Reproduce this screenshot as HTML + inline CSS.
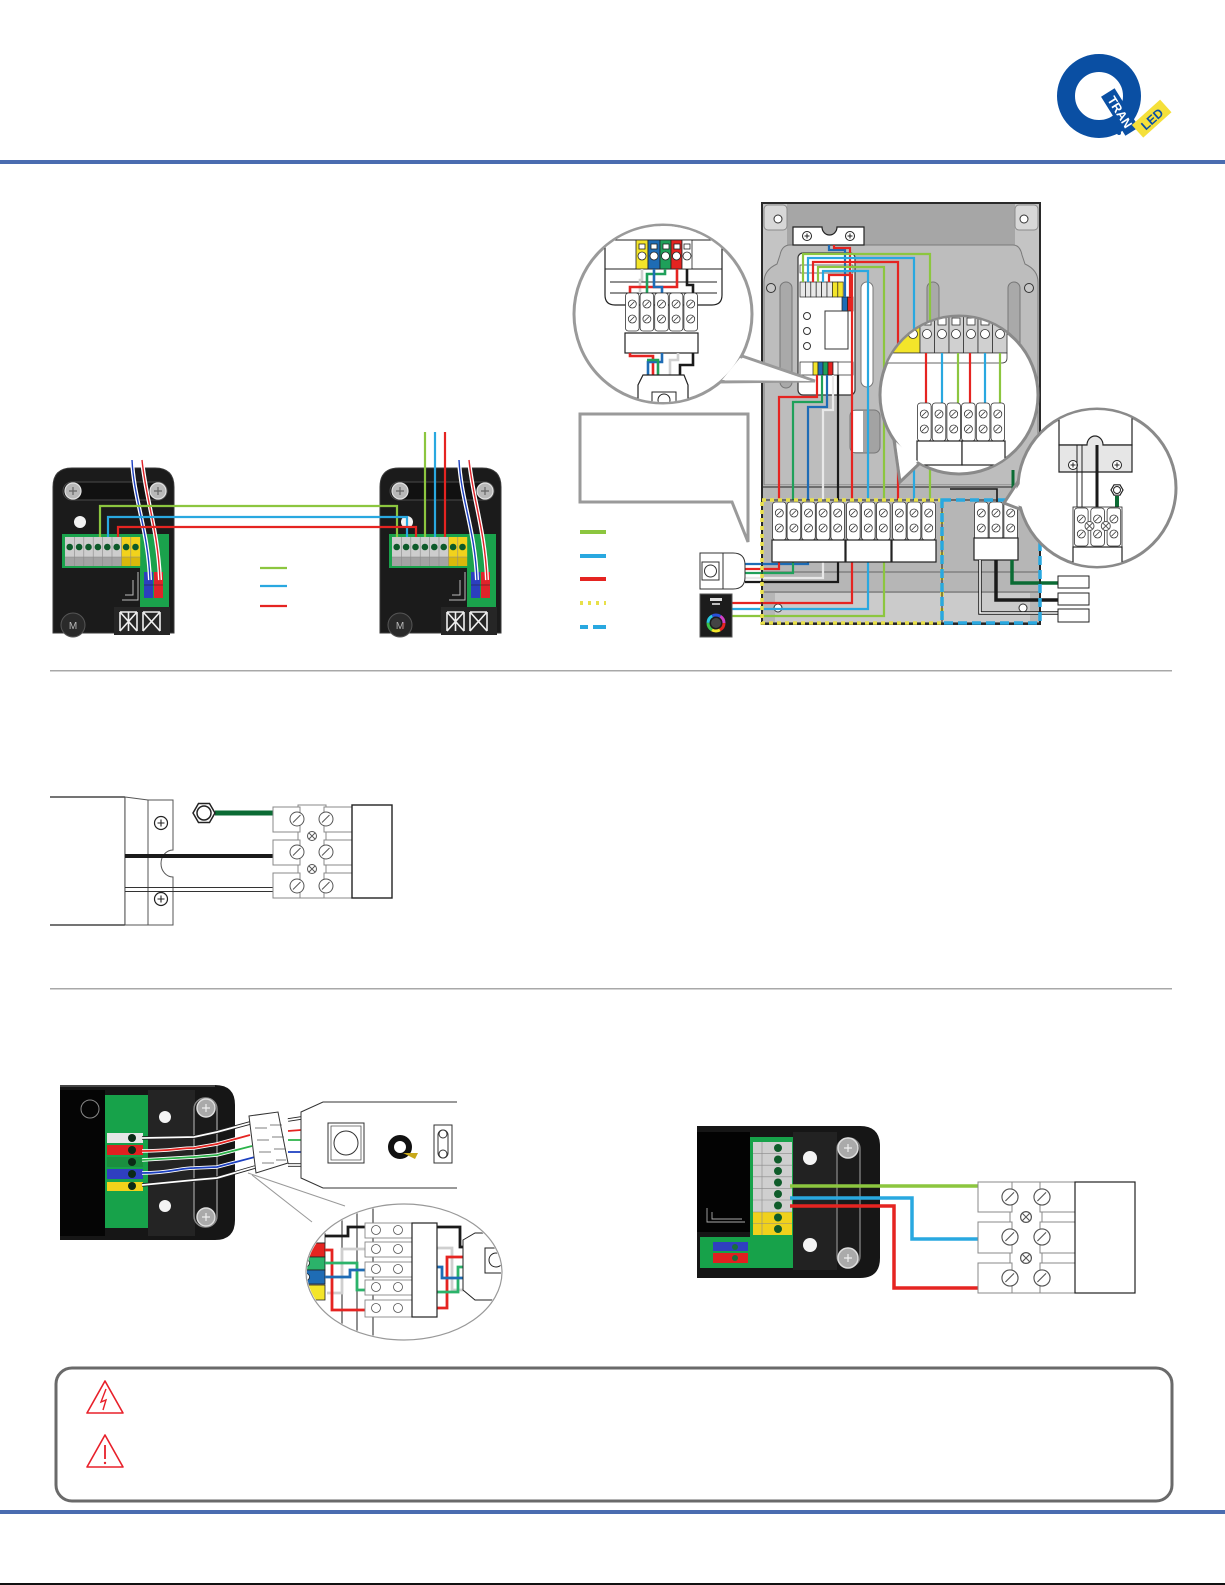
<!DOCTYPE html>
<html><head><meta charset="utf-8">
<style>
html,body{margin:0;padding:0;background:#fff;}
svg{display:block;}
</style></head><body>
<svg width="1225" height="1585" viewBox="0 0 1225 1585" xmlns="http://www.w3.org/2000/svg" xmlns:xlink="http://www.w3.org/1999/xlink" font-family="Liberation Sans, sans-serif">
<defs>
 <g id="sc"><circle r="4" fill="#fff" stroke="#333" stroke-width=".8"/><path d="M-2.4,2.1L2.1,-2.4" stroke="#333" stroke-width=".8"/></g>
 <g id="tc"><rect x=".5" y="0" width="13.6" height="38" rx="3" fill="#fff" stroke="#333" stroke-width=".8"/><use href="#sc" xlink:href="#sc" x="7.3" y="11"/><use href="#sc" xlink:href="#sc" x="7.3" y="26"/></g>
 <g id="bsc"><circle r="7" fill="#fff" stroke="#555" stroke-width="1"/><path d="M-4,3.5L3.5,-4" stroke="#555" stroke-width="1"/></g>
 <g id="xsc"><circle r="4.5" fill="#fff" stroke="#555" stroke-width="1"/><path d="M-3,-3L3,3M-3,3L3,-3" stroke="#555" stroke-width=".9"/></g>
 <g id="ps"><circle r="6.5" fill="#fff" stroke="#222" stroke-width="1.2"/><path d="M-3.5,0h7M0,-3.5v7" stroke="#222" stroke-width="1.1"/></g>
 <clipPath id="cL"><circle cx="663" cy="314" r="88"/></clipPath>
 <clipPath id="cM1"><circle cx="959" cy="395" r="78"/></clipPath>
 <clipPath id="cM2"><circle cx="1097" cy="488" r="78"/></clipPath>
 <clipPath id="cE"><ellipse cx="404" cy="1272" rx="97" ry="67"/></clipPath>

 <g id="ctl">
  <path d="M53,633 V487 Q53,468 72,468 H155 Q174,468 174,487 V633 Z" fill="#1b1b1b" stroke="#3a3a3a"/>
  <rect x="63" y="482" width="104" height="18" rx="9" fill="#111" stroke="#4a4a4a"/>
  <circle cx="73" cy="491" r="8" fill="#b8b8b8" stroke="#e2e2e2" stroke-width="1.2"/>
  <path d="M69,491h8M73,487v8" stroke="#666" stroke-width="1.2"/>
  <circle cx="158" cy="491" r="8" fill="#b8b8b8" stroke="#e2e2e2" stroke-width="1.2"/>
  <path d="M154,491h8M158,487v8" stroke="#666" stroke-width="1.2"/>
  <circle cx="80" cy="522" r="6" fill="#f2f2f2"/>
  <rect x="62" y="534" width="107" height="34" fill="#1aa24c"/>
  <rect x="140" y="534" width="29" height="74" fill="#1aa24c"/>
  <rect x="65" y="537" width="56.4" height="20" fill="#cdcdcd"/>
  <rect x="65" y="557" width="56.4" height="9" fill="#a3a3a3"/>
  <rect x="121.4" y="537" width="18.8" height="20" fill="#f2d21c"/>
  <rect x="121.4" y="557" width="18.8" height="9" fill="#d9b80c"/>
  <path d="M74.4,537v29M83.8,537v29M93.2,537v29M102.6,537v29M112,537v29M121.4,537v29M130.8,537v29M65,557h75" stroke="#8a8a8a" stroke-width=".6"/>
  <g fill="#0d5a2a">
   <circle cx="69.7" cy="547" r="3.3"/><circle cx="79.1" cy="547" r="3.3"/><circle cx="88.5" cy="547" r="3.3"/><circle cx="97.9" cy="547" r="3.3"/>
   <circle cx="107.3" cy="547" r="3.3"/><circle cx="116.7" cy="547" r="3.3"/><circle cx="126.1" cy="547" r="3.3"/><circle cx="135.5" cy="547" r="3.3"/>
  </g>
  <rect x="144" y="572" width="9" height="26" fill="#2b3fbf"/>
  <rect x="154" y="572" width="9" height="26" fill="#e0242a"/>
  <path d="M144,585h19" stroke="#222" stroke-width=".6"/>
  <path d="M138,572V600H122M133,580V595H125" fill="none" stroke="#bbb" stroke-width="1"/>
  <circle cx="73" cy="625" r="12" fill="#2a2a2a" stroke="#555"/>
  <text x="73" y="629" font-size="10" fill="#bbb" text-anchor="middle">M</text>
  <rect x="114" y="607" width="56" height="28" fill="#262626"/>
  <path d="M120,612h17M120,612v19M137,612v19M120,612l8.5,9.5l8.5,-9.5M120,631l8.5,-9.5l8.5,9.5M128.5,612v19M143,612h17M143,612v19M160,612v19M143,612l8.5,9.5l8.5,-9.5M143,631l8.5,-9.5l8.5,9.5" fill="none" stroke="#eee" stroke-width="1.6"/>
  <path d="M132,460 C134,500 148,530 150,580" fill="none" stroke="#fff" stroke-width="4"/>
  <path d="M132,460 C134,500 148,530 150,580" fill="none" stroke="#1b3fc0" stroke-width="1.4"/>
  <path d="M142,460 C146,500 158,530 160,580" fill="none" stroke="#fff" stroke-width="4"/>
  <path d="M142,460 C146,500 158,530 160,580" fill="none" stroke="#e0242a" stroke-width="1.4"/>
 </g>
</defs>

<!-- HEADER -->
<circle cx="1099" cy="96" r="33" fill="none" stroke="#0a4fa3" stroke-width="18"/>
<g transform="translate(1120,112) rotate(58)">
 <rect x="-23" y="-8" width="46" height="16" fill="#0a4fa3"/>
 <text x="0" y="4.5" font-size="12.5" font-weight="bold" fill="#fff" text-anchor="middle">TRAN</text>
</g>
<g transform="translate(1152,119) rotate(-42)">
 <rect x="-19" y="-9" width="38" height="17" fill="#f5e03a"/>
 <text x="0" y="4.5" font-size="12.5" font-weight="bold" fill="#0a4fa3" text-anchor="middle">LED</text>
</g>
<circle cx="1119" cy="133" r="2" fill="#0a4fa3"/>
<rect x="0" y="160" width="1225" height="4" fill="#4a6cb0"/>

<!-- SECTION 1 LEFT: controllers -->
<use href="#ctl" xlink:href="#ctl"/>
<use href="#ctl" xlink:href="#ctl" x="327"/>
<g fill="none" stroke-width="2.2">
 <path d="M100,537V506H397V537" stroke="#8cc63f"/>
 <path d="M108,537V517H407V537" stroke="#29a8e0"/>
 <path d="M118,537V527H416V537" stroke="#e52421"/>
 <path d="M425,432V537" stroke="#8cc63f"/>
 <path d="M435,432V537" stroke="#29a8e0"/>
 <path d="M445,432V537" stroke="#e52421"/>
 <path d="M260,568H287" stroke="#8cc63f"/>
 <path d="M260,586H287" stroke="#29a8e0"/>
 <path d="M260,606H287" stroke="#e52421"/>
</g>

<!-- SECTION 1 RIGHT: enclosure -->
<rect x="762" y="203" width="278" height="421" fill="#c4c4c4" stroke="#2a2a2a" stroke-width="2"/>
<rect x="787" y="204" width="228" height="41" fill="#a6a6a6"/>
<rect x="764" y="205" width="23" height="25" rx="4" fill="#d8d8d8" stroke="#8a8a8a"/>
<circle cx="778" cy="219" r="4" fill="#fff" stroke="#333"/>
<rect x="1015" y="205" width="23" height="25" rx="4" fill="#d8d8d8" stroke="#8a8a8a"/>
<circle cx="1024" cy="219" r="4" fill="#fff" stroke="#333"/>
<path d="M790,245 H1013 Q1020,245 1022,255 L1025,264 Q1038,270 1038,282 V485 H764 V282 Q764,270 777,264 L780,255 Q782,245 790,245 Z" fill="#bdbdbd" stroke="#7a7a7a"/>
<circle cx="771" cy="288" r="4.5" fill="#c8c8c8" stroke="#333"/>
<circle cx="1029" cy="288" r="4.5" fill="#c8c8c8" stroke="#333"/>
<rect x="780" y="282" width="12" height="106" rx="6" fill="#a9a9a9" stroke="#777"/>
<rect x="861" y="282" width="12" height="105" rx="6" fill="#fff" stroke="#777"/>
<rect x="927" y="282" width="12" height="105" rx="6" fill="#a9a9a9" stroke="#777"/>
<rect x="1008" y="282" width="12" height="105" rx="6" fill="#a9a9a9" stroke="#777"/>
<rect x="850" y="410" width="30" height="43" rx="6" fill="#a3a3a3" stroke="#777"/>
<rect x="851" y="411" width="12" height="41" fill="#fff"/>
<rect x="763" y="485" width="276" height="138" fill="#b6b6b6"/>
<path d="M763,487H1039" stroke="#555" stroke-width="1.5"/>
<path d="M763,572H1039M763,592H1039" stroke="#666" stroke-width="1"/>
<rect x="775" y="593" width="255" height="29" fill="#cbcbcb"/>
<circle cx="778" cy="608" r="4" fill="#fff" stroke="#333"/>
<circle cx="1023" cy="608" r="4" fill="#fff" stroke="#333"/>
<path d="M793,227 H822 A7.5,8 0 0 0 837,227 H864 V245 H793 Z" fill="#fff" stroke="#222" stroke-width="1.2"/>
<circle cx="807" cy="236" r="4.5" fill="#fff" stroke="#222"/><path d="M804.5,236h5M807,233.5v5" stroke="#222"/>
<circle cx="850" cy="236" r="4.5" fill="#fff" stroke="#222"/><path d="M847.5,236h5M850,233.5v5" stroke="#222"/>
<!-- din module -->
<rect x="798" y="253" width="57" height="142" rx="5" fill="#fff" stroke="#333" stroke-width="1.2"/>
<rect x="800" y="265" width="53" height="8" fill="#fff" stroke="#333" stroke-width=".7"/>
<g stroke="#222" stroke-width=".7">
 <rect x="800" y="282" width="5.4" height="15" fill="#e8e8e8"/><rect x="805.4" y="282" width="5.4" height="15" fill="#e8e8e8"/>
 <rect x="810.8" y="282" width="5.4" height="15" fill="#e8e8e8"/><rect x="816.2" y="282" width="5.4" height="15" fill="#e8e8e8"/>
 <rect x="821.6" y="282" width="5.4" height="15" fill="#e8e8e8"/><rect x="827" y="282" width="5.4" height="15" fill="#e8e8e8"/>
 <rect x="832.4" y="282" width="5.4" height="15" fill="#f3e52a"/><rect x="837.8" y="282" width="5.4" height="15" fill="#f3e52a"/>
 <rect x="842" y="297" width="5.5" height="14" fill="#1e6cb5"/><rect x="847.5" y="297" width="5.5" height="14" fill="#e52421"/>
 <rect x="800" y="362" width="53" height="13" fill="#fff"/>
 <rect x="813" y="362" width="5" height="13" fill="#f3e52a"/><rect x="818" y="362" width="5" height="13" fill="#1e6cb5"/>
 <rect x="823" y="362" width="5" height="13" fill="#1fa05a"/><rect x="828" y="362" width="5" height="13" fill="#e52421"/>
 <rect x="833" y="362" width="5" height="13" fill="#fff"/>
</g>
<circle cx="807" cy="316" r="3.5" fill="#fff" stroke="#333"/>
<circle cx="807" cy="331" r="3.5" fill="#fff" stroke="#333"/>
<circle cx="807" cy="346" r="3.5" fill="#fff" stroke="#333"/>
<rect x="825" y="311" width="23" height="38" fill="#fff" stroke="#333"/>
<!-- enclosure wires -->
<g fill="none" stroke-width="2.2">
 <path d="M829,245V250H845V297" stroke="#1e6cb5"/>
 <path d="M834,245V248H850V297" stroke="#e52421"/>
 <path d="M803,282V254H930V500" stroke="#8cc63f"/>
 <path d="M808,282V258H914V500" stroke="#29a8e0"/>
 <path d="M813,282V262H898V500" stroke="#e52421"/>
 <path d="M818,282V267H884V500" stroke="#8cc63f"/>
 <path d="M823,282V271H868V500" stroke="#29a8e0"/>
 <path d="M829,282V275H852V500" stroke="#e52421"/>
 <path d="M817,375V397H779V500" stroke="#e52421"/>
 <path d="M822,375V402H793V500" stroke="#1fa05a"/>
 <path d="M827,375V407H808V500" stroke="#1e6cb5"/>
 <path d="M833,375V410H823V500" stroke="#e8e8e8"/>
 <path d="M838,375V500" stroke="#1a1a1a"/>
 <path d="M808,562V564H745" stroke="#1e6cb5"/>
 <path d="M779,562V569H745" stroke="#e52421"/>
 <path d="M793,562V573H745" stroke="#1fa05a"/>
 <path d="M823,562V578H745" stroke="#e8e8e8"/>
 <path d="M838,562V582H745" stroke="#1a1a1a"/>
 <path d="M852,562V603H732" stroke="#e52421"/>
 <path d="M868,562V609H732" stroke="#29a8e0"/>
 <path d="M884,562V616H732" stroke="#8cc63f"/>
 <path d="M997,502V489H950" stroke="#1a1a1a" stroke-width="1.6"/>
</g>
<!-- terminal blocks -->
<rect x="762" y="500" width="180" height="123" fill="none" stroke="#222" stroke-width="1"/>
<use href="#tc" xlink:href="#tc" x="772" y="502"/><use href="#tc" xlink:href="#tc" x="786.6" y="502"/><use href="#tc" xlink:href="#tc" x="801.2" y="502"/><use href="#tc" xlink:href="#tc" x="815.8" y="502"/><use href="#tc" xlink:href="#tc" x="830.4" y="502"/>
<rect x="772" y="540" width="73" height="22" fill="#fff" stroke="#222" stroke-width="1.2"/>
<use href="#tc" xlink:href="#tc" x="846" y="502"/><use href="#tc" xlink:href="#tc" x="861" y="502"/><use href="#tc" xlink:href="#tc" x="876" y="502"/>
<rect x="846" y="540" width="45" height="22" fill="#fff" stroke="#222" stroke-width="1.2"/>
<use href="#tc" xlink:href="#tc" x="892" y="502"/><use href="#tc" xlink:href="#tc" x="906.7" y="502"/><use href="#tc" xlink:href="#tc" x="921.4" y="502"/>
<rect x="892" y="540" width="44" height="22" fill="#fff" stroke="#222" stroke-width="1.2"/>
<use href="#tc" xlink:href="#tc" x="974" y="502"/><use href="#tc" xlink:href="#tc" x="988.7" y="502"/><use href="#tc" xlink:href="#tc" x="1003.4" y="502"/>
<rect x="974" y="538" width="44" height="22" fill="#fff" stroke="#222" stroke-width="1.2"/>
<path d="M1013,502V470" stroke="#0b6b34" stroke-width="3"/>
<path d="M1012,560V583H1058" fill="none" stroke="#0b6b34" stroke-width="3.5"/>
<path d="M996,560V600H1058" fill="none" stroke="#1a1a1a" stroke-width="3.5"/>
<path d="M980,560V613H1058" fill="none" stroke="#1a1a1a" stroke-width="3.5"/>
<path d="M980,560V613H1058" fill="none" stroke="#fff" stroke-width="1.6"/>
<rect x="1058" y="576" width="31" height="12" fill="#fff" stroke="#222"/>
<rect x="1058" y="593" width="31" height="12" fill="#fff" stroke="#222"/>
<rect x="1058" y="609" width="31" height="13" fill="#fff" stroke="#222"/>
<rect x="762" y="500" width="180" height="123" fill="none" stroke="#e8e04a" stroke-width="3.5" stroke-dasharray="4 4"/>
<rect x="942" y="500" width="98" height="123" fill="none" stroke="#222" stroke-width="1"/>
<rect x="942" y="500" width="98" height="123" fill="none" stroke="#29a8e0" stroke-width="3.5" stroke-dasharray="9 5"/>

<!-- callout box + legend -->
<path d="M580,414 H748 V542 L732,502 H580 Z" fill="#fff" stroke="#9a9a9a" stroke-width="3" stroke-linejoin="miter"/>
<g stroke-width="4">
 <path d="M580,532H606" stroke="#8cc63f"/>
 <path d="M580,556H606" stroke="#29a8e0"/>
 <path d="M580,579H606" stroke="#e52421"/>
 <path d="M580,603H606" stroke="#e8e04a" stroke-dasharray="3 5"/>
 <path d="M580,627H588M593,627H606" stroke="#29a8e0"/>
</g>
<!-- led controller & remote -->
<path d="M700,553 H733 Q745,553 745,565 V577 Q745,589 733,589 H700 Z" fill="#fff" stroke="#333"/>
<path d="M723,553V589" stroke="#333"/>
<rect x="702" y="562" width="17" height="18" fill="#fff" stroke="#333"/>
<circle cx="710.5" cy="571" r="6" fill="#fff" stroke="#333"/>
<rect x="700" y="594" width="32" height="43" fill="#1c1c1c" stroke="#555"/>
<rect x="710" y="598" width="12" height="3" fill="#ddd"/><rect x="712" y="603" width="8" height="2" fill="#bbb"/>
<g fill="none" stroke-width="3">
 <circle cx="716" cy="623" r="8" stroke="#e52421" stroke-dasharray="8.4 50"/>
 <circle cx="716" cy="623" r="8" stroke="#f3e52a" stroke-dasharray="8.4 50" stroke-dashoffset="-8.4"/>
 <circle cx="716" cy="623" r="8" stroke="#3cc24a" stroke-dasharray="8.4 50" stroke-dashoffset="-16.8"/>
 <circle cx="716" cy="623" r="8" stroke="#29c8e0" stroke-dasharray="8.4 50" stroke-dashoffset="-25.2"/>
 <circle cx="716" cy="623" r="8" stroke="#2a4fd8" stroke-dasharray="8.4 50" stroke-dashoffset="-33.6"/>
 <circle cx="716" cy="623" r="8" stroke="#d040c8" stroke-dasharray="8.4 50" stroke-dashoffset="-42"/>
</g>
<circle cx="716" cy="623" r="5" fill="#444"/>

<!-- left magnifier -->
<path d="M742,356 L815,381 L720,382 Z" fill="#fff" stroke="#9a9a9a" stroke-width="3"/>
<circle cx="663" cy="314" r="89" fill="#fff" stroke="#9a9a9a" stroke-width="3"/>
<path d="M740,358 L811,381 L722,380 Z" fill="#fff"/>
<g clip-path="url(#cL)">
 <rect x="660" y="220" width="40" height="13" fill="#fff" stroke="#222"/>
 <path d="M605,215 V295 Q605,305 615,305 H712 Q722,305 722,295 V215" fill="#fff" stroke="#222" stroke-width="1.2"/>
 <path d="M605,240H722M605,269H722M610,282H717M610,293H717" stroke="#222" stroke-width="1"/>
 <g stroke="#222" stroke-width=".8">
  <rect x="636" y="240" width="12" height="29" fill="#f3e52a"/>
  <rect x="648" y="240" width="12" height="29" fill="#1e6cb5"/>
  <rect x="660" y="240" width="11" height="29" fill="#1fa05a"/>
  <rect x="671" y="240" width="11" height="29" fill="#e52421"/>
  <rect x="682" y="240" width="10" height="29" fill="#fff"/>
  <rect x="639" y="244" width="6" height="5" fill="#fff"/><rect x="651" y="244" width="6" height="5" fill="#fff"/>
  <rect x="663" y="244" width="6" height="5" fill="#fff"/><rect x="674" y="244" width="6" height="5" fill="#fff"/>
  <rect x="684" y="244" width="6" height="5" fill="#fff"/>
  <circle cx="642" cy="256" r="4" fill="#fff"/><circle cx="654" cy="256" r="4" fill="#fff"/>
  <circle cx="665.5" cy="256" r="4" fill="#fff"/><circle cx="676.5" cy="256" r="4" fill="#fff"/>
  <circle cx="687" cy="256" r="4" fill="#fff"/>
 </g>
 <g fill="none" stroke-width="2.6">
  <path d="M642,269V280H640V293" stroke="#d0d0d0"/>
  <path d="M677,269V287H630V293" stroke="#e52421"/>
  <path d="M665,269V274H647V293" stroke="#1fa05a"/>
  <path d="M654,269V287H662V293" stroke="#1e6cb5"/>
  <path d="M687,269V285H693V293" stroke="#1a1a1a"/>
 </g>
 <use href="#tc" xlink:href="#tc" x="625" y="293"/><use href="#tc" xlink:href="#tc" x="639.6" y="293"/><use href="#tc" xlink:href="#tc" x="654.2" y="293"/><use href="#tc" xlink:href="#tc" x="668.8" y="293"/><use href="#tc" xlink:href="#tc" x="683.4" y="293"/>
 <rect x="625" y="333" width="73" height="20" fill="#fff" stroke="#222" stroke-width="1.2"/>
 <g fill="none" stroke-width="2.6">
  <path d="M630,353V356H653V375" stroke="#e52421"/>
  <path d="M662,353V362H648V375" stroke="#1e6cb5"/>
  <path d="M647,360H658V375" stroke="#1fa05a"/>
  <path d="M678,353V360H670V375" stroke="#d0d0d0"/>
  <path d="M693,353V365H680V375" stroke="#1a1a1a"/>
 </g>
 <path d="M643,375 H684 L688,385 V410 H638 V385 Z" fill="#fff" stroke="#222" stroke-width="1.2"/>
 <rect x="652" y="392" width="24" height="16" fill="#fff" stroke="#222"/>
 <circle cx="664" cy="400" r="6" fill="#fff" stroke="#222"/>
</g>

<!-- magnifier 1 -->
<path d="M894,440 L900,482 L920,463 Z" fill="#fff" stroke="#8a8a8a" stroke-width="3"/>
<circle cx="959" cy="395" r="79" fill="#fff" stroke="#8a8a8a" stroke-width="3"/>
<path d="M896,442 L901,477 L918,461 Z" fill="#fff"/>
<g clip-path="url(#cM1)">
 <rect x="870" y="310" width="50" height="43" fill="#f3e52a" stroke="#333" stroke-width=".8"/>
 <g stroke="#333" stroke-width=".8">
  <rect x="920" y="310" width="14.5" height="43" fill="#d0d0d0"/><rect x="934.5" y="310" width="14.5" height="43" fill="#d0d0d0"/>
  <rect x="949" y="310" width="14.5" height="43" fill="#d0d0d0"/><rect x="963.5" y="310" width="14.5" height="43" fill="#d0d0d0"/>
  <rect x="978" y="310" width="14.5" height="43" fill="#d0d0d0"/><rect x="992.5" y="310" width="14.5" height="43" fill="#d0d0d0"/>
  <rect x="923" y="318" width="8" height="7" fill="#fff"/><rect x="938" y="318" width="8" height="7" fill="#fff"/>
  <rect x="952" y="318" width="8" height="7" fill="#fff"/><rect x="967" y="318" width="8" height="7" fill="#fff"/>
  <rect x="981" y="318" width="8" height="7" fill="#fff"/><rect x="996" y="318" width="8" height="7" fill="#fff"/>
  <circle cx="913" cy="334" r="4.5" fill="#fff"/>
  <circle cx="927" cy="334" r="4.5" fill="#fff"/><circle cx="942" cy="334" r="4.5" fill="#fff"/>
  <circle cx="956" cy="334" r="4.5" fill="#fff"/><circle cx="971" cy="334" r="4.5" fill="#fff"/>
  <circle cx="985" cy="334" r="4.5" fill="#fff"/><circle cx="1000" cy="334" r="4.5" fill="#fff"/>
 </g>
 <path d="M870,353 H1007 V358 Q1007,363 1002,363 H870" fill="#fff" stroke="#333" stroke-width=".8"/>
 <g stroke-width="2.2">
  <path d="M926,353V403" stroke="#e52421"/><path d="M942,353V403" stroke="#29a8e0"/>
  <path d="M958,353V403" stroke="#8cc63f"/><path d="M970,353V403" stroke="#e52421"/>
  <path d="M985,353V403" stroke="#29a8e0"/><path d="M1000,353V403" stroke="#8cc63f"/>
 </g>
 <use href="#tc" xlink:href="#tc" x="917" y="403"/><use href="#tc" xlink:href="#tc" x="931.7" y="403"/><use href="#tc" xlink:href="#tc" x="946.4" y="403"/>
 <use href="#tc" xlink:href="#tc" x="961.1" y="403"/><use href="#tc" xlink:href="#tc" x="975.8" y="403"/><use href="#tc" xlink:href="#tc" x="990.5" y="403"/>
 <rect x="917" y="441" width="45" height="24" fill="#fff" stroke="#222" stroke-width="1.2"/>
 <rect x="962" y="441" width="43" height="24" fill="#fff" stroke="#222" stroke-width="1.2"/>
</g>

<!-- magnifier 2 -->
<path d="M1019,480 L1004,503 L1022,510 Z" fill="#fff" stroke="#8a8a8a" stroke-width="3"/>
<circle cx="1097" cy="488" r="79" fill="#fff" stroke="#8a8a8a" stroke-width="3"/>
<path d="M1021,482 L1008,502 L1023,507 Z" fill="#fff"/>
<g clip-path="url(#cM2)">
 <rect x="1059" y="400" width="73" height="45" fill="#fff" stroke="#222" stroke-width="1.2"/>
 <path d="M1059,445 H1087 A8,9 0 0 1 1103,445 H1132 V472 H1059 Z" fill="#e6e6e6" stroke="#222" stroke-width="1.2"/>
 <circle cx="1073" cy="465" r="4.5" fill="#fff" stroke="#222"/><path d="M1070.5,465h5M1073,462.5v5" stroke="#222"/>
 <circle cx="1117" cy="465" r="4.5" fill="#fff" stroke="#222"/><path d="M1114.5,465h5M1117,462.5v5" stroke="#222"/>
 <path d="M1077,445V507M1082,445V507" stroke="#222" stroke-width="1"/>
 <path d="M1097,445V507" stroke="#1a1a1a" stroke-width="3"/>
 <path d="M1117,496V507" stroke="#0b6b34" stroke-width="4"/>
 <polygon points="1123,490 1120,495.2 1114,495.2 1111,490 1114,484.8 1120,484.8" fill="#fff" stroke="#222" stroke-width="1.2"/>
 <circle cx="1117" cy="490" r="3.5" fill="#fff" stroke="#222"/>
 <rect x="1073" y="507" width="49" height="40" fill="#fff" stroke="#222" stroke-width=".8"/>
 <use href="#tc" xlink:href="#tc" x="1074" y="508"/><use href="#tc" xlink:href="#tc" x="1090.3" y="508"/><use href="#tc" xlink:href="#tc" x="1106.6" y="508"/>
 <use href="#xsc" xlink:href="#xsc" x="1089.5" y="526"/><use href="#xsc" xlink:href="#xsc" x="1105.8" y="526"/>
 <rect x="1073" y="547" width="49" height="22" fill="#fff" stroke="#222" stroke-width="1.2"/>
</g>

<!-- separator -->
<rect x="50" y="670" width="1122" height="1.5" fill="#a8a8a8"/>

<!-- SECTION 2 -->
<path d="M50,797H125M50,925H125M125,797V925" fill="none" stroke="#222" stroke-width="1.2"/>
<path d="M125,797 L148,800 H173 V850 A12,13.5 0 0 0 173,877 V925 H125 Z" fill="#fff" stroke="#555" stroke-width="1"/>
<path d="M148,800V925" stroke="#555" stroke-width="1"/>
<use href="#ps" xlink:href="#ps" x="161" y="823"/>
<use href="#ps" xlink:href="#ps" x="161" y="899"/>
<path d="M125,856H273" stroke="#1a1a1a" stroke-width="4"/>
<path d="M125,887.5H273M125,891.5H273" stroke="#333" stroke-width="1"/>
<path d="M215,813H273" stroke="#0b6b34" stroke-width="5"/>
<polygon points="215,813 209.5,822.5 198.5,822.5 193,813 198.5,803.5 209.5,803.5" fill="#fff" stroke="#222" stroke-width="1.5"/>
<circle cx="204" cy="813" r="7" fill="#fff" stroke="#222" stroke-width="1.5"/>
<rect x="298" y="805" width="28" height="93" fill="#fff" stroke="#888"/>
<g fill="#fff" stroke="#888" stroke-width="1">
 <rect x="273" y="807" width="27" height="25"/><rect x="324" y="807" width="28" height="25"/>
 <rect x="273" y="840" width="27" height="25"/><rect x="324" y="840" width="28" height="25"/>
 <rect x="273" y="873" width="27" height="25"/><rect x="324" y="873" width="28" height="25"/>
</g>
<rect x="352" y="805" width="40" height="93" fill="#fff" stroke="#222" stroke-width="1.4"/>
<use href="#bsc" xlink:href="#bsc" x="297" y="819"/><use href="#bsc" xlink:href="#bsc" x="326" y="819"/>
<use href="#bsc" xlink:href="#bsc" x="297" y="852"/><use href="#bsc" xlink:href="#bsc" x="326" y="852"/>
<use href="#bsc" xlink:href="#bsc" x="297" y="886"/><use href="#bsc" xlink:href="#bsc" x="326" y="886"/>
<use href="#xsc" xlink:href="#xsc" x="312" y="836"/><use href="#xsc" xlink:href="#xsc" x="312" y="869"/>

<!-- separator -->
<rect x="50" y="988" width="1122" height="1.5" fill="#a8a8a8"/>

<!-- SECTION 3 LEFT -->
<path d="M60,1085 H215 Q235,1085 235,1105 V1220 Q235,1240 215,1240 H60 Z" fill="#161616"/>
<path d="M60,1086 H215" stroke="#555" stroke-width="1.5"/>
<rect x="60" y="1090" width="45" height="146" fill="#050505"/>
<circle cx="90" cy="1109" r="9" fill="none" stroke="#888"/>
<rect x="105" y="1095" width="43" height="133" fill="#17a24a"/>
<rect x="107" y="1133" width="36" height="10" fill="#e6e6e6"/>
<rect x="107" y="1145" width="36" height="10" fill="#e02020"/>
<rect x="107" y="1157" width="36" height="10" fill="#1a8f3f"/>
<rect x="107" y="1169" width="36" height="10" fill="#2f3fc0"/>
<rect x="107" y="1182" width="36" height="9" fill="#f3d21b"/>
<g fill="#0b2a16"><circle cx="132" cy="1138" r="4"/><circle cx="132" cy="1150" r="4"/><circle cx="132" cy="1162" r="4"/><circle cx="132" cy="1174" r="4"/><circle cx="132" cy="1186" r="4"/></g>
<rect x="148" y="1090" width="47" height="146" fill="#242424"/>
<circle cx="165" cy="1117" r="6" fill="#f4f4f4"/>
<circle cx="165" cy="1206" r="6" fill="#f4f4f4"/>
<rect x="194" y="1098" width="23" height="129" rx="11" fill="#1a1a1a" stroke="#888" stroke-width="1.5"/>
<circle cx="206" cy="1108" r="9" fill="#aaa" stroke="#ddd" stroke-width="1.5"/><path d="M202,1108h8M206,1104v8" stroke="#eee" stroke-width="1.2"/>
<circle cx="206" cy="1217" r="9" fill="#aaa" stroke="#ddd" stroke-width="1.5"/><path d="M202,1217h8M206,1213v8" stroke="#eee" stroke-width="1.2"/>
<g fill="none">
 <path d="M142,1138 L194,1137 L217,1132 L250,1123 M288,1120 L301,1118" stroke="#222" stroke-width="3.5"/>
 <path d="M142,1138 L194,1137 L217,1132 L250,1123 M288,1120 L301,1118" stroke="#fff" stroke-width="1.8"/>
 <path d="M142,1151 C170,1151 180,1148 194,1148 L217,1144 L250,1135 M288,1131 L301,1130" stroke="#fff" stroke-width="3.5"/>
 <path d="M142,1151 C170,1151 180,1148 194,1148 L217,1144 L250,1135 M288,1131 L301,1130" stroke="#e52421" stroke-width="1.8"/>
 <path d="M142,1160 L194,1157 L217,1155 L252,1146 M288,1140 L301,1140" stroke="#fff" stroke-width="3.5"/>
 <path d="M142,1160 L194,1157 L217,1155 L252,1146 M288,1140 L301,1140" stroke="#2bb34a" stroke-width="1.8"/>
 <path d="M142,1173 C170,1173 180,1168 194,1168 L217,1167 L255,1157 M288,1152 L301,1152" stroke="#fff" stroke-width="3.5"/>
 <path d="M142,1173 C170,1173 180,1168 194,1168 L217,1167 L255,1157 M288,1152 L301,1152" stroke="#1b3fc0" stroke-width="1.8"/>
 <path d="M142,1185 L194,1180 L217,1178 L255,1167 M288,1165 L301,1165" stroke="#222" stroke-width="3.5"/>
 <path d="M142,1185 L194,1180 L217,1178 L255,1167 M288,1165 L301,1165" stroke="#fff" stroke-width="1.8"/>
</g>
<polygon points="249,1116 278,1112 288,1163 256,1173" fill="#fff" stroke="#333" stroke-width="1"/>
<path d="M255,1128h12M270,1125h12M257,1140h12M272,1137h12M259,1152h12M274,1149h12M262,1163h12M276,1160h10" stroke="#555" stroke-width=".8"/>
<path d="M457,1102 H323 L301,1112 V1178 L323,1188 H457" fill="#fff" stroke="#333" stroke-width="1"/>
<rect x="328" y="1123" width="36" height="40" fill="#fff" stroke="#333"/>
<path d="M331,1126H361V1160H331Z" fill="none" stroke="#555" stroke-width=".8"/>
<circle cx="346" cy="1143" r="12" fill="#fff" stroke="#333"/>
<circle cx="400" cy="1147" r="9" fill="none" stroke="#111" stroke-width="6"/>
<path d="M403,1153 L415,1159 L418,1153 Z" fill="#c8a81a"/>
<rect x="434" y="1125" width="18" height="38" fill="#fff" stroke="#333"/>
<rect x="438" y="1130" width="10" height="28" rx="5" fill="#fff" stroke="#333"/>
<circle cx="443" cy="1134" r="4" fill="#fff" stroke="#333"/><circle cx="443" cy="1154" r="4" fill="#fff" stroke="#333"/>
<path d="M248,1173 L345,1206 M252,1175 L312,1222" stroke="#999" stroke-width="1"/>
<ellipse cx="404" cy="1272" rx="98" ry="68" fill="#fff" stroke="#999" stroke-width="1.2"/>
<g clip-path="url(#cE)">
 <path d="M342,1200V1345M357,1200V1345M373,1200V1345" stroke="#222" stroke-width="1"/>
 <rect x="300" y="1228" width="25" height="15" fill="#fff" stroke="#222" stroke-width=".8"/>
 <rect x="300" y="1243" width="25" height="14" fill="#e52421" stroke="#222" stroke-width=".8"/>
 <rect x="300" y="1257" width="25" height="13" fill="#2bb36a" stroke="#222" stroke-width=".8"/>
 <rect x="300" y="1270" width="25" height="14" fill="#1e6cb5" stroke="#222" stroke-width=".8"/>
 <rect x="300" y="1285" width="25" height="15" fill="#f3e52a" stroke="#222" stroke-width=".8"/>
 <g fill="#fff" stroke="#222" stroke-width=".8"><circle cx="306" cy="1250" r="3.5"/><circle cx="306" cy="1263" r="3.5"/><circle cx="306" cy="1277" r="3.5"/><circle cx="306" cy="1292" r="3.5"/></g>
 <g fill="none" stroke-width="2.8">
  <path d="M325,1236H348V1227H365M437,1227H460V1247H470" stroke="#1a1a1a"/>
  <path d="M327,1293H342V1249H365M437,1248H452V1290H470" stroke="#cfcfcf"/>
  <path d="M325,1250H332V1310H365M437,1308H447V1257H470" stroke="#e52421"/>
  <path d="M325,1263H357V1290H365M437,1292H458V1267H470" stroke="#2bb36a"/>
  <path d="M325,1277H350V1270H365M437,1267H442V1278H470" stroke="#1e6cb5"/>
 </g>
 <g fill="#fff" stroke="#888" stroke-width=".9">
  <rect x="365" y="1223" width="47" height="15"/><rect x="365" y="1242" width="47" height="15"/>
  <rect x="365" y="1262" width="47" height="15"/><rect x="365" y="1280" width="47" height="15"/>
  <rect x="365" y="1300" width="47" height="17"/>
 </g>
 <g fill="#fff" stroke="#555" stroke-width=".8">
  <circle cx="376" cy="1230" r="4.5"/><circle cx="398" cy="1230" r="4.5"/>
  <circle cx="376" cy="1249" r="4.5"/><circle cx="398" cy="1249" r="4.5"/>
  <circle cx="376" cy="1269" r="4.5"/><circle cx="398" cy="1269" r="4.5"/>
  <circle cx="376" cy="1287" r="4.5"/><circle cx="398" cy="1287" r="4.5"/>
  <circle cx="376" cy="1308" r="4.5"/><circle cx="398" cy="1308" r="4.5"/>
 </g>
 <rect x="412" y="1223" width="25" height="94" fill="#fff" stroke="#222" stroke-width="1.2"/>
 <path d="M463,1240 L475,1233 H510 V1300 H475 L463,1290 Z" fill="#fff" stroke="#222" stroke-width="1"/>
 <rect x="485" y="1248" width="20" height="25" fill="#fff" stroke="#222"/>
 <circle cx="496" cy="1260" r="7" fill="#fff" stroke="#222"/>
</g>

<!-- SECTION 3 RIGHT -->
<path d="M697,1126 H860 Q880,1126 880,1146 V1258 Q880,1278 860,1278 H697 Z" fill="#161616"/>
<rect x="697" y="1132" width="53" height="100" fill="#030303"/>
<path d="M707,1208V1222H745M712,1212V1219H742" fill="none" stroke="#aaa" stroke-width=".9"/>
<rect x="700" y="1237" width="50" height="31" fill="#17a24a"/>
<rect x="713" y="1242" width="35" height="9" fill="#2f3fc0"/>
<rect x="713" y="1253" width="35" height="10" fill="#e02020"/>
<circle cx="735" cy="1247" r="3" fill="#1a6e3a"/><circle cx="735" cy="1258" r="3" fill="#1a6e3a"/>
<rect x="750" y="1137" width="43" height="131" fill="#17a24a"/>
<rect x="753" y="1142" width="39" height="70" fill="#cfcfcf"/>
<rect x="753" y="1212" width="39" height="23" fill="#f0d11c"/>
<path d="M753,1153.6H792M753,1165.2H792M753,1176.8H792M753,1188.4H792M753,1200H792M753,1212H792M753,1223.5H792M762,1142V1235" stroke="#8a8a8a" stroke-width=".6"/>
<g fill="#0f5c2a"><circle cx="778" cy="1148" r="4"/><circle cx="778" cy="1159.5" r="4"/><circle cx="778" cy="1171" r="4"/><circle cx="778" cy="1182.5" r="4"/><circle cx="778" cy="1194" r="4"/><circle cx="778" cy="1205.5" r="4"/><circle cx="778" cy="1217.5" r="4"/><circle cx="778" cy="1229" r="4"/></g>
<rect x="793" y="1132" width="44" height="138" fill="#222"/>
<circle cx="810" cy="1158" r="7" fill="#f4f4f4"/>
<circle cx="810" cy="1245" r="7" fill="#f4f4f4"/>
<rect x="837" y="1138" width="23" height="129" rx="11" fill="#1a1a1a" stroke="#777" stroke-width="1.5"/>
<circle cx="848" cy="1148" r="10" fill="#aaa" stroke="#ddd" stroke-width="1.5"/><path d="M844,1148h8M848,1144v8" stroke="#eee" stroke-width="1.2"/>
<circle cx="848" cy="1258" r="10" fill="#aaa" stroke="#ddd" stroke-width="1.5"/><path d="M844,1258h8M848,1254v8" stroke="#eee" stroke-width="1.2"/>
<g fill="none" stroke-width="3.5">
 <path d="M790,1186H978" stroke="#8cc63f"/>
 <path d="M790,1198H912V1239H978" stroke="#29a8e0"/>
 <path d="M790,1206H894V1288H978" stroke="#e52421"/>
</g>
<rect x="1010" y="1182" width="32" height="111" fill="#fff" stroke="#888"/>
<g fill="#fff" stroke="#888" stroke-width="1">
 <rect x="978" y="1182" width="34" height="30"/><rect x="1040" y="1182" width="35" height="30"/>
 <rect x="978" y="1222" width="34" height="31"/><rect x="1040" y="1222" width="35" height="31"/>
 <rect x="978" y="1263" width="34" height="30"/><rect x="1040" y="1263" width="35" height="30"/>
</g>
<g transform="translate(1010,1197) scale(1.15)"><use href="#bsc" xlink:href="#bsc"/></g>
<g transform="translate(1042,1197) scale(1.15)"><use href="#bsc" xlink:href="#bsc"/></g>
<g transform="translate(1010,1237) scale(1.15)"><use href="#bsc" xlink:href="#bsc"/></g>
<g transform="translate(1042,1237) scale(1.15)"><use href="#bsc" xlink:href="#bsc"/></g>
<g transform="translate(1010,1278) scale(1.15)"><use href="#bsc" xlink:href="#bsc"/></g>
<g transform="translate(1042,1278) scale(1.15)"><use href="#bsc" xlink:href="#bsc"/></g>
<g transform="translate(1026,1217) scale(1.2)"><use href="#xsc" xlink:href="#xsc"/></g>
<g transform="translate(1026,1258) scale(1.2)"><use href="#xsc" xlink:href="#xsc"/></g>
<rect x="1075" y="1182" width="60" height="111" fill="#fff" stroke="#222" stroke-width="1.2"/>

<!-- WARNING BOX -->
<rect x="56" y="1368" width="1116" height="133" rx="16" fill="#fff" stroke="#6a6a6a" stroke-width="3"/>
<polygon points="105,1381 87,1413 123,1413" fill="#fff" stroke="#e8202a" stroke-width="1.6" stroke-linejoin="round"/>
<path d="M106,1389 L101,1402 L106,1400 L103,1410" fill="none" stroke="#e8202a" stroke-width="1.4"/>
<polygon points="105,1435 87,1467 123,1467" fill="#fff" stroke="#e8202a" stroke-width="1.6" stroke-linejoin="round"/>
<path d="M105,1445V1459" stroke="#e8202a" stroke-width="1.8"/>
<circle cx="105" cy="1463" r="1.2" fill="#e8202a"/>

<!-- FOOTER -->
<rect x="0" y="1510" width="1225" height="4" fill="#4a6cb0"/>
<rect x="0" y="1583" width="1225" height="2" fill="#111"/>
</svg>
</body></html>
